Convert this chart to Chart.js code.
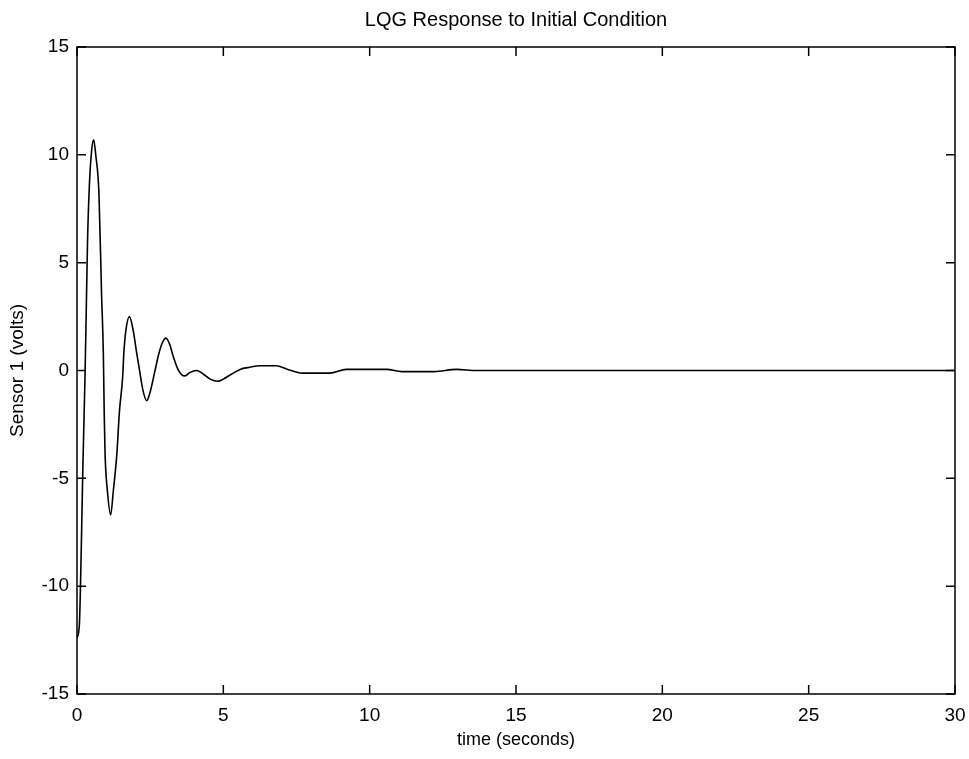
<!DOCTYPE html>
<html>
<head>
<meta charset="utf-8">
<title>LQG Response to Initial Condition</title>
<script src="https://cdn.jsdelivr.net/npm/chart.js@4.4.1/dist/chart.umd.min.js"></script>
<style>
  html, body { margin: 0; padding: 0; background: #fff; }
  #wrap { width: 969px; height: 759px; }
</style>
</head>
<body>
<div id="wrap"><canvas id="lqgChart" width="969" height="759"></canvas></div>
<script>
// ========== Data ==========
const timeSeconds = [0, 0.08, 0.15, 0.2, 0.27, 0.31, 0.36, 0.42, 0.5, 0.57, 0.64, 0.75, 0.84, 0.9,
  0.93, 0.96, 1.04, 1.15, 1.24, 1.36, 1.45, 1.56, 1.6, 1.67, 1.79, 1.92, 2.04, 2.15, 2.25, 2.38,
  2.5, 2.65, 2.8, 2.92, 3.04, 3.17, 3.3, 3.45, 3.58, 3.69, 3.85, 4.09, 4.3, 4.55, 4.82, 5.0, 5.3,
  5.57, 5.9, 6.25, 6.8, 7.2, 7.7, 8.64, 9.2, 10.58, 11.1, 12.2, 12.97, 13.66, 20, 30];
const sensorVolts = [-12.4, -11.8, -8, -4.5, -0.5, 2.3, 6, 8.5, 10.2, 10.7, 10.0, 8.2, 3.5, 0.8,
  -2, -3.9, -5.6, -6.7, -5.6, -3.9, -1.9, -0.3, 0.8, 1.86, 2.5, 1.86, 0.8, -0.1, -0.9, -1.4,
  -1.0, -0.1, 0.8, 1.3, 1.5, 1.2, 0.6, 0.05, -0.2, -0.25, -0.1, 0.0, -0.15, -0.4, -0.5, -0.4, -0.15,
  0.05, 0.15, 0.22, 0.22, 0.05, -0.12, -0.12, 0.05, 0.05, -0.05, -0.05, 0.05, 0, 0, 0];
const xTicks = [0, 5, 10, 15, 20, 25, 30];
const yTicks = [-15, -10, -5, 0, 5, 10, 15];

const FONT = "'Liberation Sans Narrow', 'Liberation Sans', Arial, sans-serif";

// ========== Plugins ==========
// MATLAB-style box with inward ticks on all four sides
const boxTicks = {
  id: 'boxTicks',
  afterDraw(chart) {
    const { ctx, chartArea: a, scales } = chart;
    const len = 9;
    ctx.save();
    ctx.strokeStyle = '#000';
    ctx.lineWidth = 1.5;
    ctx.strokeRect(a.left, a.top, a.right - a.left, a.bottom - a.top);
    ctx.beginPath();
    xTicks.forEach(v => {
      const px = scales.x.getPixelForValue(v);
      ctx.moveTo(px, a.bottom); ctx.lineTo(px, a.bottom - len);
      ctx.moveTo(px, a.top); ctx.lineTo(px, a.top + len);
    });
    yTicks.forEach(v => {
      const py = scales.y.getPixelForValue(v);
      ctx.moveTo(a.left, py); ctx.lineTo(a.left + len, py);
      ctx.moveTo(a.right, py); ctx.lineTo(a.right - len, py);
    });
    ctx.stroke();
    ctx.restore();
  }
};

// ========== Chart ==========
new Chart(document.getElementById('lqgChart'), {
  type: 'line',
  data: {
    datasets: [{
      data: timeSeconds.map((t, i) => ({ x: t, y: sensorVolts[i] })),
      borderColor: '#000',
      borderWidth: 1.6,
      pointRadius: 0,
      cubicInterpolationMode: 'monotone',
      fill: false
    }]
  },
  plugins: [boxTicks],
  options: {
    responsive: false,
    animation: false,
    layout: { padding: { left: 0, right: 14, top: 0, bottom: 0 } },
    plugins: {
      legend: { display: false },
      tooltip: { enabled: false },
      title: {
        display: true,
        fullSize: false,
        text: 'LQG Response to Initial Condition',
        color: '#000',
        font: { family: FONT, size: 20, weight: 'normal' },
        padding: { top: 8, bottom: 15 }
      }
    },
    scales: {
      x: {
        type: 'linear',
        min: 0, max: 30,
        afterBuildTicks: s => { s.ticks = xTicks.map(v => ({ value: v })); },
        afterFit: s => { s.height = 65; s.paddingLeft = 0; s.paddingRight = 0; },
        grid: { display: false, drawTicks: false },
        border: { display: false },
        ticks: { color: '#000', padding: 10, font: { family: FONT, size: 19 } },
        title: {
          display: true, text: 'time (seconds)', color: '#000',
          font: { family: FONT, size: 18 }, padding: { top: 0, bottom: 8 }
        }
      },
      y: {
        type: 'linear',
        min: -15, max: 15,
        afterBuildTicks: s => { s.ticks = yTicks.map(v => ({ value: v })); },
        afterFit: s => { s.width = 77; s.paddingTop = 0; s.paddingBottom = 0; },
        grid: { display: false, drawTicks: false },
        border: { display: false },
        ticks: { color: '#000', padding: 8, font: { family: FONT, size: 19 } },
        title: {
          display: true, text: 'Sensor 1 (volts)', color: '#000',
          font: { family: FONT, size: 19 }, padding: { top: 6, bottom: 0 }
        }
      }
    }
  }
});
</script>
</body>
</html>
